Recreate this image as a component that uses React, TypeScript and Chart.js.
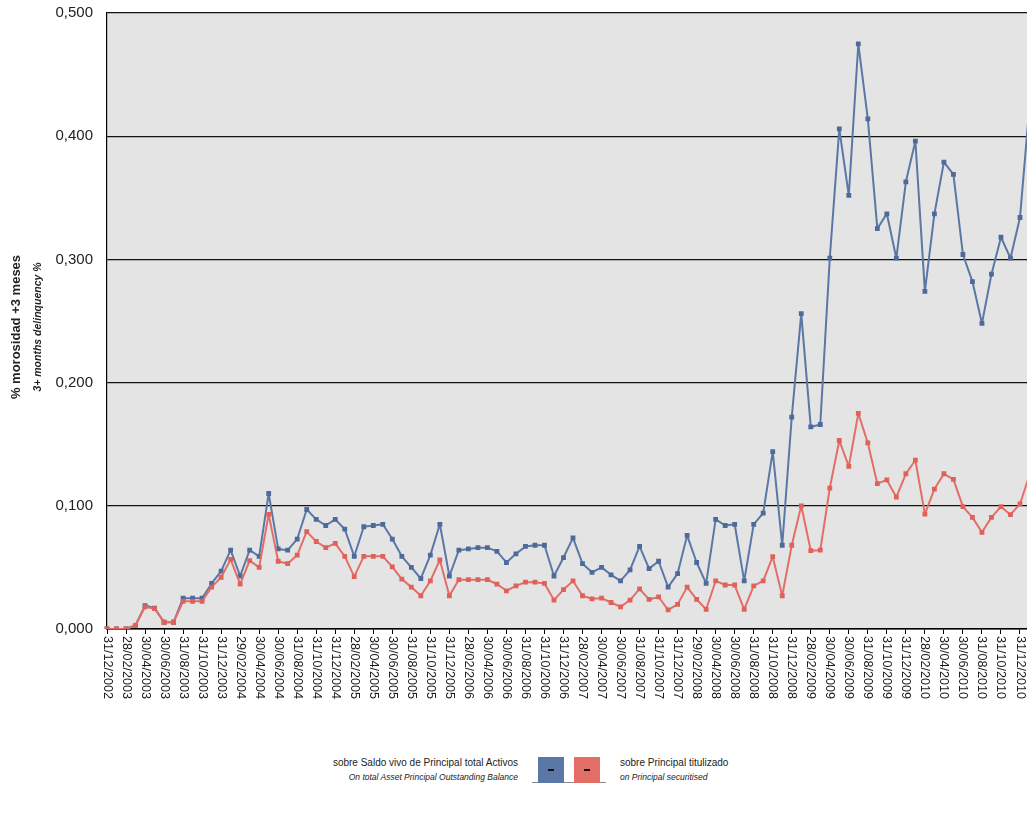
import React, { useEffect, useRef } from "react";
import { Chart, registerables } from "chart.js";

Chart.register(...registerables);

const dateLabels: string[] = [
  "31/12/2002",
  "31/01/2003", "28/02/2003", "31/03/2003", "30/04/2003", "31/05/2003", "30/06/2003",
  "31/07/2003", "31/08/2003", "30/09/2003", "31/10/2003", "30/11/2003", "31/12/2003",
  "31/01/2004", "29/02/2004", "31/03/2004", "30/04/2004", "31/05/2004", "30/06/2004",
  "31/07/2004", "31/08/2004", "30/09/2004", "31/10/2004", "30/11/2004", "31/12/2004",
  "31/01/2005", "28/02/2005", "31/03/2005", "30/04/2005", "31/05/2005", "30/06/2005",
  "31/07/2005", "31/08/2005", "30/09/2005", "31/10/2005", "30/11/2005", "31/12/2005",
  "31/01/2006", "28/02/2006", "31/03/2006", "30/04/2006", "31/05/2006", "30/06/2006",
  "31/07/2006", "31/08/2006", "30/09/2006", "31/10/2006", "30/11/2006", "31/12/2006",
  "31/01/2007", "28/02/2007", "31/03/2007", "30/04/2007", "31/05/2007", "30/06/2007",
  "31/07/2007", "31/08/2007", "30/09/2007", "31/10/2007", "30/11/2007", "31/12/2007",
  "31/01/2008", "29/02/2008", "31/03/2008", "30/04/2008", "31/05/2008", "30/06/2008",
  "31/07/2008", "31/08/2008", "30/09/2008", "31/10/2008", "30/11/2008", "31/12/2008",
  "31/01/2009", "28/02/2009", "31/03/2009", "30/04/2009", "31/05/2009", "30/06/2009",
  "31/07/2009", "31/08/2009", "30/09/2009", "31/10/2009", "30/11/2009", "31/12/2009",
  "31/01/2010", "28/02/2010", "31/03/2010", "30/04/2010", "31/05/2010", "30/06/2010",
  "31/07/2010", "31/08/2010", "30/09/2010", "31/10/2010", "30/11/2010", "31/12/2010",
  "31/01/2011",
];

const totalAssetsSeries: number[] = [
  0, 0, 0, 0.003, 0.019, 0.017, 0.0055, 0.0055, 0.025, 0.025, 0.025, 0.037, 0.047,
  0.064, 0.043, 0.064, 0.059, 0.110, 0.065, 0.064, 0.073, 0.097, 0.089, 0.084, 0.089,
  0.081, 0.059, 0.083, 0.084, 0.085, 0.073, 0.059, 0.050, 0.041, 0.060, 0.085, 0.043,
  0.064, 0.065, 0.066, 0.066, 0.063, 0.054, 0.061, 0.067, 0.068, 0.068, 0.043, 0.058,
  0.074, 0.053, 0.046, 0.050, 0.044, 0.039, 0.048, 0.067, 0.049, 0.055, 0.034, 0.045,
  0.076, 0.054, 0.037, 0.089, 0.084, 0.085, 0.039, 0.085, 0.094, 0.144, 0.068, 0.172,
  0.256, 0.164, 0.166, 0.301, 0.406, 0.352, 0.475, 0.414, 0.325, 0.337, 0.301, 0.363,
  0.396, 0.274, 0.337, 0.379, 0.369, 0.304, 0.282, 0.248, 0.288, 0.318, 0.301, 0.334,
  0.425,
];

const securitisedSeries: number[] = [
  0, 0, 0, 0.003, 0.018, 0.0165, 0.0055, 0.0055, 0.0225, 0.0225, 0.0225, 0.034, 0.042,
  0.0565, 0.0365, 0.0555, 0.050, 0.093, 0.055, 0.053, 0.060, 0.079, 0.071, 0.066, 0.0695,
  0.059, 0.0425, 0.059, 0.059, 0.059, 0.0505, 0.0405, 0.034, 0.027, 0.039, 0.056, 0.027,
  0.040, 0.040, 0.040, 0.040, 0.0365, 0.031, 0.035, 0.038, 0.038, 0.037, 0.0235, 0.032,
  0.039, 0.027, 0.0245, 0.025, 0.0215, 0.018, 0.0235, 0.0325, 0.024, 0.026, 0.0155, 0.020,
  0.034, 0.024, 0.016, 0.039, 0.0357, 0.0357, 0.016, 0.035, 0.039, 0.0587, 0.027, 0.068,
  0.100, 0.0636, 0.064, 0.1144, 0.153, 0.132, 0.175, 0.151, 0.118, 0.121, 0.107, 0.126,
  0.137, 0.0933, 0.1136, 0.126, 0.1215, 0.0993, 0.0906, 0.0785, 0.0906, 0.0993, 0.0928, 0.1015,
  0.125,
];

const yAxisTitle: string[] = ["% morosidad +3 meses", "3+ months delinquency %"];
const legendBlue: string[] = ["sobre Saldo vivo de Principal total Activos", "On total Asset Principal Outstanding Balance"];
const legendRed: string[] = ["sobre Principal titulizado", "on Principal securitised"];

const BLUE = "#5b77a6";
const BLUE_PT = "#4e6a9b";
const RED = "#e36e67";
const RED_PT = "#e0615a";
const FONT = "'Liberation Sans', Arial, sans-serif";

const bgPlugin = {
  id: "plotBg",
  beforeDraw(chart: any) {
    const { ctx, chartArea } = chart;
    ctx.save();
    ctx.fillStyle = "#e4e4e4";
    ctx.fillRect(chartArea.left, chartArea.top, chartArea.right - chartArea.left, chartArea.bottom - chartArea.top);
    ctx.restore();
  },
};

const textPlugin = {
  id: "customText",
  afterDraw(chart: any) {
    const { ctx, chartArea } = chart;
    const xs = chart.scales.x;
    ctx.save();
    // x tick labels rotated clockwise (reading top to bottom)
    ctx.font = `12.6px ${FONT}`;
    ctx.fillStyle = "#1a1a1a";
    ctx.textAlign = "left";
    ctx.textBaseline = "middle";
    for (let i = 0; i < dateLabels.length; i += 2) {
      const x = xs.getPixelForTick(i);
      ctx.save();
      ctx.translate(x, chartArea.bottom + 7);
      ctx.rotate(Math.PI / 2);
      ctx.fillText(dateLabels[i], 0, 0);
      ctx.restore();
    }
    // y axis title
    const cy = (chartArea.top + chartArea.bottom) / 2 + 6;
    ctx.textAlign = "center";
    ctx.save();
    ctx.translate(16, cy);
    ctx.rotate(-Math.PI / 2);
    ctx.font = `bold 13px ${FONT}`;
    ctx.fillStyle = "#222";
    ctx.fillText(yAxisTitle[0], 0, 0);
    ctx.restore();
    ctx.save();
    ctx.translate(38, cy);
    ctx.rotate(-Math.PI / 2);
    ctx.font = `italic bold 10.5px ${FONT}`;
    ctx.fillStyle = "#222";
    ctx.fillText(yAxisTitle[1], 0, 0);
    ctx.restore();
    ctx.restore();
  },
};

export default function App() {
  const canvasRef = useRef<HTMLCanvasElement | null>(null);

  useEffect(() => {
    const canvas = canvasRef.current;
    if (!canvas) return;
    const chart = new Chart(canvas, {
      type: "line",
      data: {
        labels: dateLabels,
        datasets: [
          {
            label: legendRed[0],
            data: securitisedSeries,
            borderColor: RED,
            backgroundColor: RED_PT,
            pointBackgroundColor: RED_PT,
            pointBorderColor: RED_PT,
            borderWidth: 2,
            borderJoinStyle: "round",
            pointStyle: "rect",
            pointRadius: 3.4,
            pointBorderWidth: 0,
            tension: 0,
            order: 1,
          },
          {
            label: legendBlue[0],
            data: totalAssetsSeries,
            borderColor: BLUE,
            backgroundColor: BLUE_PT,
            pointBackgroundColor: BLUE_PT,
            pointBorderColor: BLUE_PT,
            borderWidth: 2,
            borderJoinStyle: "round",
            pointStyle: "rect",
            pointRadius: 3.4,
            pointBorderWidth: 0,
            tension: 0,
            order: 2,
          },
        ],
      },
      options: {
        animation: false,
        responsive: false,
        devicePixelRatio: 1,
        layout: { padding: { top: 13, right: 10.5, bottom: 0, left: 0 } },
        plugins: {
          legend: { display: false },
          tooltip: { enabled: false },
          title: { display: false },
        },
        scales: {
          x: {
            type: "category",
            offset: false,
            grid: {
              drawOnChartArea: false,
              drawTicks: true,
              tickLength: 5,
              color: (c: any) => (c.index % 2 === 0 ? "#000" : "rgba(0,0,0,0)"),
              lineWidth: 1,
            },
            border: { display: true, color: "#000", width: 1.5 },
            ticks: {
              autoSkip: false,
              maxRotation: 0,
              color: "rgba(0,0,0,0)",
              font: { size: 1, family: FONT },
              callback: () => "",
            },
            afterFit: (scale: any) => {
              scale.height = 91;
            },
          },
          y: {
            min: 0,
            max: 0.5,
            grid: {
              color: "#111",
              lineWidth: 1.2,
              drawTicks: true,
              tickLength: 11,
              tickColor: "rgba(0,0,0,0)",
            },
            border: { display: true, color: "#000", width: 1.2 },
            ticks: {
              stepSize: 0.1,
              padding: 3,
              color: "#222",
              font: { size: 15, family: FONT },
              callback: (v: any) => Number(v).toFixed(3).replace(".", ","),
            },
            afterFit: (scale: any) => {
              scale.width = 107;
            },
          },
        },
      },
      plugins: [bgPlugin, textPlugin],
    });
    return () => chart.destroy();
  }, []);

  const lineStyle = (italic: boolean): React.CSSProperties => ({
    fontFamily: FONT,
    fontSize: italic ? "8.5px" : "10px",
    fontStyle: italic ? "italic" : "normal",
    color: "#222",
    lineHeight: "14px",
    whiteSpace: "nowrap",
  });

  const box = (color: string, left: number): React.ReactNode => (
    <div style={{ position: "absolute", left, top: 757, width: 26, height: 26, background: color }}>
      <div style={{ position: "absolute", left: 10, top: 12, width: 6, height: 2, background: "#111" }} />
    </div>
  );

  return (
    <div
      style={{
        position: "fixed",
        left: 0,
        top: 0,
        width: 1027,
        height: 815,
        overflow: "hidden",
        background: "#fff",
      }}
    >
      <canvas
        ref={canvasRef}
        width={1040}
        height={720}
        style={{ position: "absolute", left: 0, top: 0, width: 1040, height: 720 }}
      />
      <div style={{ position: "absolute", right: 1027 - 518, top: 756, textAlign: "right" }}>
        <div style={lineStyle(false)}>{legendBlue[0]}</div>
        <div style={lineStyle(true)}>{legendBlue[1]}</div>
      </div>
      <div style={{ position: "absolute", left: 532, top: 782, width: 74, height: 1, background: "#8a8a8a" }} />
      {box(BLUE, 538)}
      {box(RED, 574)}
      <div style={{ position: "absolute", left: 620, top: 756, textAlign: "left" }}>
        <div style={lineStyle(false)}>{legendRed[0]}</div>
        <div style={lineStyle(true)}>{legendRed[1]}</div>
      </div>
    </div>
  );
}
